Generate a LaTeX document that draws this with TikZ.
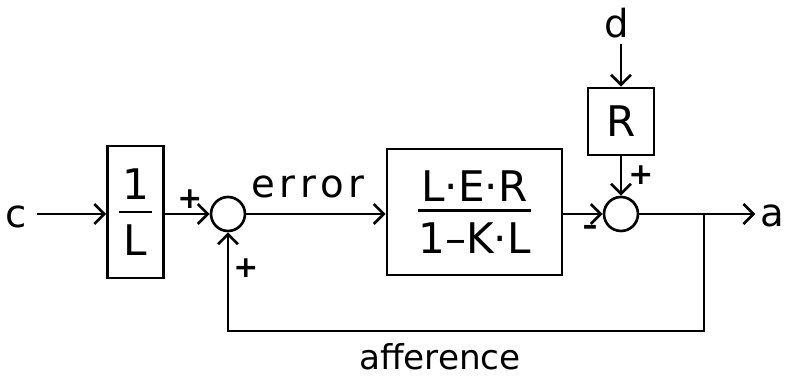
\documentclass[tikz,border=0pt]{standalone}
\usepackage{fontspec}
\setmainfont{DejaVu Sans}
\usetikzlibrary{arrows.meta}
% stacked fraction: numerator, bar of given width, denominator
\newcommand\barfrac[5]{\vbox{\offinterlineskip\halign{\hfil##\hfil\cr
  #1\cr\noalign{\kern#4}\rule{#3}{1.5pt}\cr\noalign{\kern#5}#2\cr}}}
\begin{document}
\begin{tikzpicture}[x=0.02cm,y=-0.02cm,
  line width=1.5pt,
  every node/.style={font=\fontsize{22}{24}\selectfont},
  sig/.style={-{Straight Barb[length=2mm,width=4mm,line width=1.5pt]}},
  blockbox/.style={draw,rectangle,inner sep=0pt,align=center,
    font=\fontsize{24}{26}\selectfont},
  sumnode/.style={draw,circle,minimum size=0.68cm,inner sep=0pt},
  label/.style={anchor=base,inner sep=0pt},
  sign/.style={inner sep=0pt,font=\fontsize{17}{18}\bfseries\selectfont}]
  \useasboundingbox (0,0) rectangle (785,377);

  % inputs and outputs
  \node[label] (c) at (16,228) {c};
  \node[label] (d) at (617,38) {d};
  \node[label] (a) at (772,227) {a};

  % blocks
  \node[blockbox,minimum width=1.12cm,minimum height=2.64cm] (inv) at (135.5,212)
    {\barfrac{1}{L}{0.66cm}{6.5pt}{6.5pt}};
  \node[blockbox,minimum width=3.5cm,minimum height=2.52cm] (plant) at (474.5,212)
    {\barfrac{L·E·R}{1–K·L}{2.28cm}{4.5pt}{6.5pt}};
  \node[blockbox,minimum width=1.32cm,minimum height=1.34cm] (dist) at (621,121.5) {R};

  % summing junctions
  \node[sumnode] (s1) at (228,214) {};
  \node[sumnode] (s2) at (621,214) {};

  % forward path
  \coordinate (cout) at ([xshift=5pt]c.east |- s1);
  \draw[sig] (cout) -- (inv.west |- s1);
  \draw[sig] (inv.east |- s1) -- (s1.west);
  \draw[sig] (s1.east) -- (plant.west |- s1);
  \draw[sig] (plant.east |- s2) -- (s2.west);
  \coordinate (din) at (dist.north |- 0,44);
  \draw[sig] (din) -- (dist.north);
  \draw[sig] (dist.south) -- (s2.north);
  \coordinate (aout) at ([xshift=-2pt]a.west |- s2);
  \draw[sig] (s2.east) -- (aout);

  % feedback path
  \coordinate (branch) at (704,214);
  \coordinate (low) at (704,331);
  \draw[sig] (branch) -- (low) -| (s1.south);

  % labels
  \node[label,font=\fontsize{22}{24}\addfontfeature{LetterSpace=13}\selectfont] (err) at (308,198) {error};
  \node[label,font=\fontsize{19.5}{22}\selectfont] (aff) at (440,370) {afference};
  \node[sign] (p1) at (190,199) {+};
  \node[sign] (p2) at (246,268) {+};
  \node[sign] (m2) at (590,230) {–};
  \node[sign] (p3) at (641,175) {+};
\end{tikzpicture}
\end{document}
